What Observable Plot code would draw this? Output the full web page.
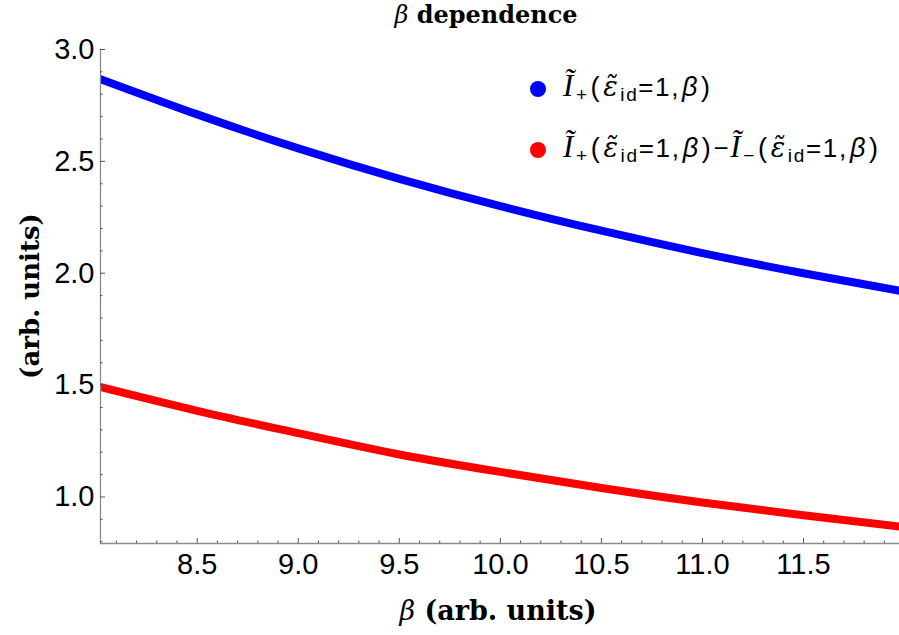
<!DOCTYPE html>
<html><head><meta charset="utf-8">
<script src="https://cdn.jsdelivr.net/npm/d3@7"></script>
<script src="https://cdn.jsdelivr.net/npm/@observablehq/plot@0.6"></script>
<style>body{margin:0;background:#fff} svg{display:block}</style>
</head><body><div id="chart"></div>
<script>
const beta  = [8.0, 8.5, 9.0, 9.5, 10.0, 10.5, 11.0, 11.5, 12.0];
const iPlus = [2.875, 2.71, 2.558, 2.422, 2.30, 2.19, 2.09, 2.0, 1.918];
const iDiff = [1.496, 1.385, 1.285, 1.19, 1.112, 1.04, 0.975, 0.918, 0.865];
const xMajor = [8.5, 9.0, 9.5, 10.0, 10.5, 11.0, 11.5];
const yMajor = [1.0, 1.5, 2.0, 2.5, 3.0];
const xMinor = d3.range(81, 120).map(d => d / 10).filter(d => !xMajor.includes(d));
const yMinor = d3.range(8, 30).map(d => d / 10).filter(d => !yMajor.includes(d));
const xDomain = [8.0215, 11.975];
const yDomain = [0.792, 3.0];

const W = 899, H = 635, mL = 100, mR = 0, mT = 49, mB = 92;
const pw = W - mL - mR, ph = H - mT - mB;
const blueData = beta.map((b, i) => ({b, v: iPlus[i]}));
const redData = beta.map((b, i) => ({b, v: iDiff[i]}));
const axisCol = "#8a8a8a", tickCol = "#555";

const plot = Plot.plot({
  width: W, height: H,
  marginLeft: mL, marginRight: mR, marginTop: mT, marginBottom: mB,
  style: {fontFamily: "Liberation Sans, Arial, sans-serif", background: "#fff", overflow: "visible"},
  x: {domain: xDomain},
  y: {domain: yDomain},
  marks: [
    Plot.line(blueData, {x: "b", y: "v", stroke: "#0000ff", strokeWidth: 8, curve: "natural", clip: true, strokeLinecap: "butt"}),
    Plot.line(redData, {x: "b", y: "v", stroke: "#ff0000", strokeWidth: 8, curve: "natural", clip: true, strokeLinecap: "butt"}),
    Plot.frame({anchor: "left", stroke: axisCol, strokeWidth: 1.3}),
    Plot.frame({anchor: "bottom", stroke: axisCol, strokeWidth: 1.3}),
    Plot.ruleX(xMajor, {x: d => d, insetTop: ph - 5, stroke: tickCol}),
    Plot.ruleX(xMinor, {x: d => d, insetTop: ph - 2.5, stroke: tickCol}),
    Plot.ruleY(yMajor, {y: d => d, insetRight: pw - 5, stroke: tickCol}),
    Plot.ruleY(yMinor, {y: d => d, insetRight: pw - 2.5, stroke: tickCol}),
    Plot.axisX(xMajor, {tickSize: 0, tickPadding: 10, fontSize: 29, tickFormat: d3.format(".1f"), label: null, fill: "#000"}),
    Plot.axisY(yMajor, {tickSize: 0, tickPadding: 6, fontSize: 29, tickFormat: d3.format(".1f"), label: null, fill: "#000"})
  ]
});
document.getElementById("chart").appendChild(plot);

const svg = d3.select(plot);
const serif = "DejaVu Serif, serif";
// title
const t = svg.append("text").attr("x", 486).attr("y", 23).attr("text-anchor", "middle")
  .attr("font-family", serif).attr("font-weight", "bold").attr("font-size", 24).attr("fill", "#000");
t.append("tspan").attr("font-style", "italic").attr("font-weight", "normal").text("β");
t.append("tspan").text(" dependence");
// x label
const xl = svg.append("text").attr("x", 498).attr("y", 620).attr("text-anchor", "middle")
  .attr("font-family", serif).attr("font-weight", "bold").attr("font-size", 27).attr("fill", "#000");
xl.append("tspan").attr("font-style", "italic").attr("font-weight", "normal").text("β");
xl.append("tspan").text(" (arb. units)");
// y label
svg.append("text").attr("transform", "translate(39,296) rotate(-90)").attr("text-anchor", "middle")
  .attr("font-family", serif).attr("font-weight", "bold").attr("font-size", 26).attr("fill", "#000")
  .text("(arb. units)");

// legend
const sans = "Liberation Sans, Arial, sans-serif", tserif = "Liberation Serif, serif";
function term(sign) {
  return [
    {t: "I\u0303", f: tserif, s: 31, i: true},
    {t: sign, f: sans, s: 19, sub: true, dx: 1},
    {t: "(", f: sans, s: 27, dx: 2},
    {t: "ε\u0303", f: "DejaVu Serif, serif", s: 27, i: true, dx: 2},
    {t: "id", f: sans, s: 19, sub: true, dx: 1},
    {t: "=1,", f: sans, s: 26},
    {t: "β", f: sans, s: 27, i: true, dx: 2},
    {t: ")", f: sans, s: 27, dx: 2}
  ];
}
const legendRows = [
  {color: "#0000ff", y: 96, len: 147, parts: term("+")},
  {color: "#ff0000", y: 157, len: 315, parts: [...term("+"), {t: "\u2212", f: sans, s: 26, dx: 1}, ...term("\u2212")]}
];
legendRows.forEach(r => {
  svg.append("circle").attr("cx", 538).attr("cy", r.y - 7).attr("r", 8).attr("fill", r.color);
  const tx = svg.append("text").attr("x", 563).attr("y", r.y).attr("fill", "#000").attr("text-anchor", "start");
  let cur = 0;
  r.parts.forEach(p => {
    const ts = tx.append("tspan").attr("font-family", p.f).attr("font-size", p.s).text(p.t);
    if (p.i) ts.attr("font-style", "italic");
    const target = (p.sub ? 5 : 0) + (p.dy || 0);
    if (target !== cur) { ts.attr("dy", target - cur); cur = target; }
    if (p.dx) ts.attr("dx", p.dx);
  });
  const L = tx.node().getComputedTextLength();
  if (L > 0 && Math.abs(L - r.len) > 2) tx.attr("textLength", r.len).attr("lengthAdjust", "spacing");
});
</script>
</body></html>
